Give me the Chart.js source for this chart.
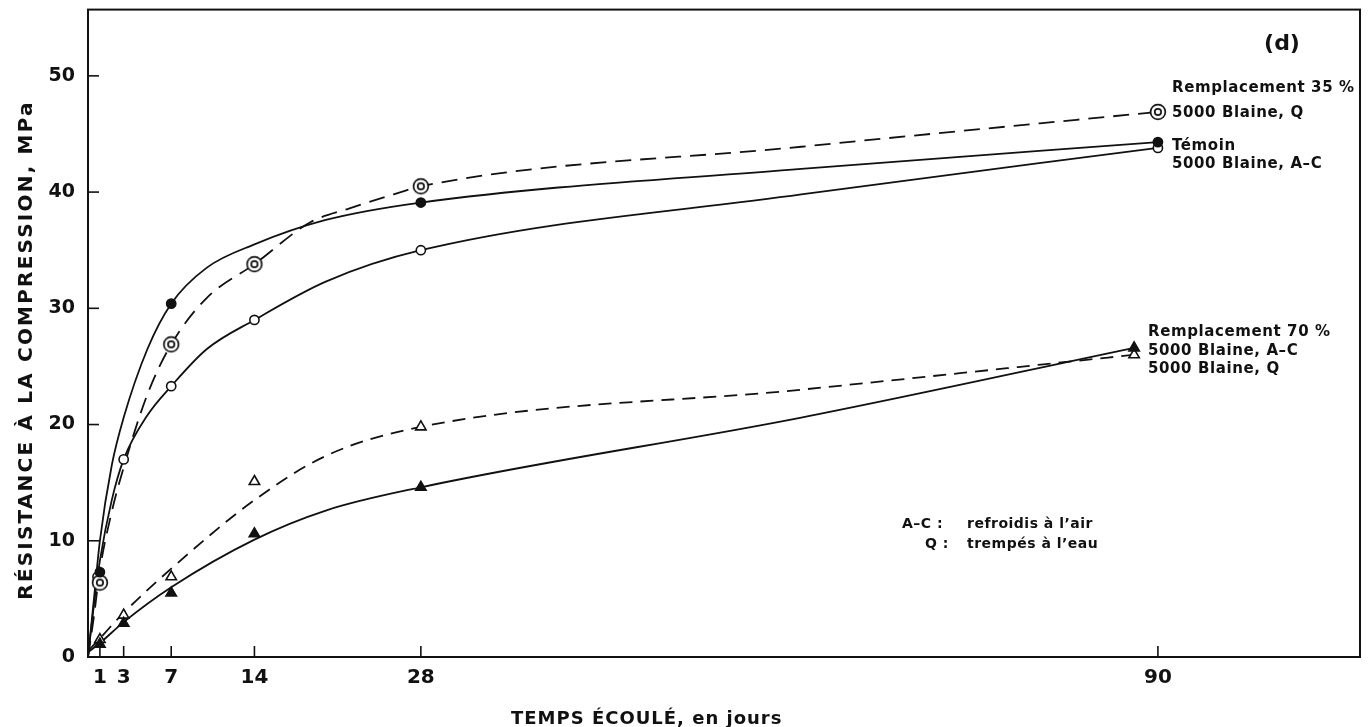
<!DOCTYPE html>
<html>
<head>
<meta charset="utf-8">
<script src="https://cdn.jsdelivr.net/npm/chart.js@4.4.1/dist/chart.umd.min.js"></script>
<style>
  html, body { margin: 0; padding: 0; background: #fff; }
  canvas { display: block; }
</style>
</head>
<body>
<canvas id="c" width="1370" height="727"></canvas>
<script>
// ---------- DATA ----------
const xTickValues = [1, 3, 7, 14, 28, 90];
const yTickValues = [0, 10, 20, 30, 40, 50];

// measured points (markers)
const temoinDays = [1, 7, 28, 90];
const temoinMPa  = [7.3, 30.4, 39.1, 44.3];
const q35Days = [1, 7, 14, 28, 90];
const q35MPa  = [6.4, 26.9, 33.8, 40.5, 46.9];
const ac35Days = [0.8, 3, 7, 14, 28, 90];
const ac35MPa  = [6.9, 17.0, 23.3, 29.0, 35.0, 43.8];
const ac70Days = [1, 3, 7, 14, 28, 88];
const ac70MPa  = [1.1, 2.9, 5.5, 10.6, 14.6, 26.6];
const q70Days = [1, 3, 7, 14, 28, 88];
const q70MPa  = [1.5, 3.6, 6.9, 15.1, 19.8, 26.0];

// hand-drawn fitted curves
const temoinCurveDays = [0, 0.5, 1, 2, 3, 5, 7, 10, 14, 20, 28, 60, 90];
const temoinCurveMPa  = [0, 5, 10, 16.5, 20.6, 26.5, 30.4, 33.5, 35.5, 37.6, 39.1, 42.0, 44.3];
const ac35CurveDays = [0, 0.5, 1, 2, 3, 5, 7, 10, 14, 20, 28, 60, 90];
const ac35CurveMPa  = [0, 4.5, 8.3, 13.5, 17.0, 20.8, 23.3, 26.5, 29.0, 32.3, 35.0, 39.8, 43.8];
const q35CurveDays = [0, 0.5, 1, 2, 3, 5, 7, 10, 14, 18.7, 22, 25.7, 28, 60, 90];
const q35CurveMPa  = [0, 3.5, 7.5, 12.5, 16.3, 22.6, 26.9, 30.9, 33.8, 37.4, 38.6, 39.8, 40.5, 43.9, 46.9];
const q70CurveDays = [0, 1, 3, 7, 14, 20, 28, 60, 88];
const q70CurveMPa  = [0.5, 1.6, 3.8, 7.6, 13.5, 17.3, 19.8, 23.0, 26.0];
const ac70CurveDays = [0, 1, 3, 7, 14, 20, 28, 60, 88];
const ac70CurveMPa  = [0.4, 1.2, 3.0, 6.0, 10.1, 12.6, 14.6, 20.6, 26.6];

const xTitle = 'TEMPS ÉCOULÉ, en jours';
const yTitle = 'RÉSISTANCE À LA COMPRESSION, MPa';

// ---------- helpers ----------
const toPts = (xs, ys) => xs.map((x, i) => ({ x: x, y: ys[i] }));
const INK = '#111';
const FONT = '"DejaVu Sans", "Liberation Sans", sans-serif';

function doubleCircle() {
  const c = document.createElement('canvas');
  c.width = 20; c.height = 20;
  const g = c.getContext('2d');
  g.fillStyle = '#fff';
  g.beginPath(); g.arc(10, 10, 7.6, 0, Math.PI * 2); g.fill();
  g.strokeStyle = INK; g.lineWidth = 1.7;
  g.beginPath(); g.arc(10, 10, 7.4, 0, Math.PI * 2); g.stroke();
  g.beginPath(); g.arc(10, 10, 3.2, 0, Math.PI * 2); g.stroke();
  return c;
}

const markerBase = { showLine: false, order: 0, borderColor: INK, borderWidth: 1.6, pointHoverRadius: 0 };
const curveBase = { showLine: true, pointRadius: 0, pointHoverRadius: 0, borderColor: INK, borderWidth: 1.8,
  cubicInterpolationMode: 'monotone', fill: false, order: 1 };

const datasets = [
  Object.assign({ label: 'Témoin', data: toPts(temoinDays, temoinMPa), pointStyle: 'circle', pointRadius: 4.6, pointBackgroundColor: INK }, markerBase),
  Object.assign({ label: '35 % Q', data: toPts(q35Days, q35MPa), pointStyle: doubleCircle(), pointRadius: 8 }, markerBase),
  Object.assign({ label: '35 % A-C', data: toPts(ac35Days, ac35MPa), pointStyle: 'circle', pointRadius: 4.6, pointBackgroundColor: '#fff' }, markerBase),
  Object.assign({ label: '70 % A-C', data: toPts(ac70Days, ac70MPa), pointStyle: 'triangle', pointRadius: 6, pointBackgroundColor: INK }, markerBase),
  Object.assign({ label: '70 % Q', data: toPts(q70Days, q70MPa), pointStyle: 'triangle', pointRadius: 6, pointBackgroundColor: '#fff' }, markerBase),

  Object.assign({ label: 'Témoin curve', data: toPts(temoinCurveDays, temoinCurveMPa) }, curveBase),
  Object.assign({ label: '35 % A-C curve', data: toPts(ac35CurveDays, ac35CurveMPa) }, curveBase),
  Object.assign({ label: '35 % Q curve', data: toPts(q35CurveDays, q35CurveMPa), borderDash: [16, 9] }, curveBase),
  Object.assign({ label: '70 % Q curve', data: toPts(q70CurveDays, q70CurveMPa), borderDash: [13, 8] }, curveBase),
  Object.assign({ label: '70 % A-C curve', data: toPts(ac70CurveDays, ac70CurveMPa) }, curveBase)
];

function txt(ctx, s, x, y, size, opts) {
  opts = opts || {};
  ctx.save();
  ctx.font = (opts.weight || 'bold') + ' ' + size + 'px ' + FONT;
  ctx.fillStyle = INK;
  ctx.textBaseline = 'alphabetic';
  ctx.textAlign = opts.align || 'left';
  if ('letterSpacing' in ctx) ctx.letterSpacing = (opts.ls || 0) + 'px';
  ctx.fillText(s, x, y);
  ctx.restore();
}

const framePlugin = {
  id: 'frame',
  afterDatasetsDraw(chart) {
    const { ctx, chartArea: a, scales } = chart;
    ctx.save();
    ctx.strokeStyle = INK;
    ctx.lineWidth = 2;
    ctx.strokeRect(a.left, a.top, a.right - a.left, a.bottom - a.top);
    ctx.lineWidth = 1.6;
    // inward y ticks
    yTickValues.forEach(v => {
      if (v === 0) return;
      const p = scales.y.getPixelForValue(v);
      ctx.beginPath(); ctx.moveTo(a.left, p); ctx.lineTo(a.left + 11, p); ctx.stroke();
    });
    // inward x ticks
    xTickValues.forEach(v => {
      const p = scales.x.getPixelForValue(v);
      ctx.beginPath(); ctx.moveTo(p, a.bottom); ctx.lineTo(p, a.bottom - 11); ctx.stroke();
    });
    ctx.restore();

    // annotations
    txt(ctx, '(d)', 1282, 50, 22, { align: 'center' });
    txt(ctx, 'Remplacement 35 %', 1172, 92, 15, { ls: 0.6 });
    txt(ctx, '5000 Blaine, Q', 1172, 117, 15, { ls: 0.6 });
    txt(ctx, 'Témoin', 1172, 150, 15, { ls: 0.6 });
    txt(ctx, '5000 Blaine, A–C', 1172, 168, 15, { ls: 0.6 });
    txt(ctx, 'Remplacement 70 %', 1148, 336, 15, { ls: 0.6 });
    txt(ctx, '5000 Blaine, A–C', 1148, 355, 15, { ls: 0.6 });
    txt(ctx, '5000 Blaine, Q', 1148, 373, 15, { ls: 0.6 });
    txt(ctx, 'A–C :', 902, 528, 14, { ls: 0.5 });
    txt(ctx, 'refroidis à l’air', 967, 528, 14, { ls: 0.5 });
    txt(ctx, 'Q :', 925, 548, 14, { ls: 0.5 });
    txt(ctx, 'trempés à l’eau', 967, 548, 14, { ls: 0.5 });

    // axis titles
    txt(ctx, xTitle, scales.x.getPixelForValue(47), 724, 18, { align: 'center', ls: 1 });
    ctx.save();
    ctx.translate(32, 350);
    ctx.rotate(-Math.PI / 2);
    txt(ctx, yTitle, 0, 0, 20, { align: 'center', ls: 2.2 });
    ctx.restore();
  }
};

new Chart(document.getElementById('c'), {
  type: 'scatter',
  data: { datasets: datasets },
  options: {
    responsive: false,
    animation: false,
    devicePixelRatio: 1,
    layout: { padding: { left: 0, right: 10, top: 7, bottom: 0 } },
    plugins: { legend: { display: false }, tooltip: { enabled: false } },
    events: [],
    scales: {
      x: {
        type: 'linear', min: 0, max: 107,
        afterBuildTicks: s => { s.ticks = xTickValues.map(v => ({ value: v })); },
        afterFit: s => { s.height = 70; s.paddingLeft = 0; s.paddingRight = 0; },
        grid: { display: false, drawTicks: false },
        border: { display: false },
        ticks: { autoSkip: false, maxRotation: 0, padding: 9, color: INK,
          font: { family: FONT, weight: 'bold', size: 20 } }
      },
      y: {
        type: 'linear', min: 0, max: 55.7,
        afterBuildTicks: s => { s.ticks = yTickValues.map(v => ({ value: v })); },
        afterFit: s => { s.width = 88; s.paddingTop = 0; s.paddingBottom = 0; },
        grid: { display: false, drawTicks: false },
        border: { display: false },
        ticks: { padding: 13, color: INK, font: { family: FONT, weight: 'bold', size: 19 } }
      }
    }
  },
  plugins: [framePlugin]
});
</script>
</body>
</html>
